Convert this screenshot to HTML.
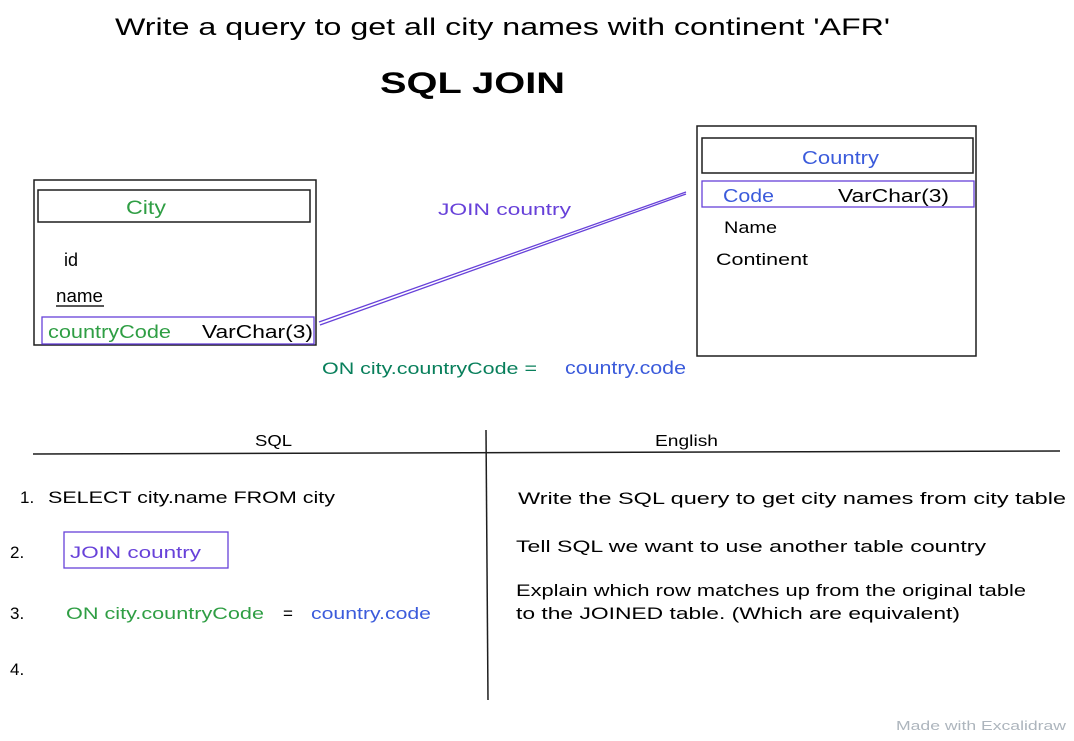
<!DOCTYPE html>
<html><head><meta charset="utf-8"><style>
body{margin:0;background:#fff;}
svg text{font-family:"Liberation Sans",sans-serif;}
</style></head><body>
<svg width="1074" height="736" viewBox="0 0 1074 736" xmlns="http://www.w3.org/2000/svg">
<rect width="1074" height="736" fill="#fff"/>
<text x="115" y="35" font-size="24" fill="#000" textLength="775" lengthAdjust="spacingAndGlyphs">Write a query to get all city names with continent 'AFR'</text>
<text x="380" y="93" font-size="30" font-weight="bold" fill="#000" textLength="185" lengthAdjust="spacingAndGlyphs">SQL JOIN</text>

<g fill="none" stroke="#1e1e1e" stroke-width="1.5">
<rect x="34" y="180" width="282" height="165"/>
<rect x="38" y="190" width="272" height="32"/>
<rect x="697" y="126" width="279" height="230"/>
<rect x="702" y="138" width="271" height="35"/>
<line x1="33" y1="454" x2="1060" y2="451"/>
<line x1="486" y1="430" x2="488" y2="700"/>
<line x1="56" y1="306" x2="104" y2="306"/>
</g>
<g fill="none" stroke="#6741d9" stroke-width="1.3">
<rect x="42" y="317" width="272" height="27"/>
<rect x="702" y="181" width="272" height="26"/>
<line x1="319" y1="322" x2="686" y2="192"/>
<line x1="320" y1="325" x2="686" y2="194"/>
<rect x="64" y="532" width="164" height="36"/>
</g>

<text x="126" y="214" font-size="19" fill="#2f9e44" textLength="40" lengthAdjust="spacingAndGlyphs">City</text>
<text x="64" y="266" font-size="18" fill="#000">id</text>
<text x="56" y="302" font-size="18" fill="#000" textLength="47" lengthAdjust="spacingAndGlyphs">name</text>
<text x="48" y="338" font-size="18" fill="#2f9e44" textLength="123" lengthAdjust="spacingAndGlyphs">countryCode</text>
<text x="202" y="338" font-size="18" fill="#000" textLength="111" lengthAdjust="spacingAndGlyphs">VarChar(3)</text>

<text x="802" y="164" font-size="18" fill="#3b5bdb" textLength="77" lengthAdjust="spacingAndGlyphs">Country</text>
<text x="723" y="202" font-size="18" fill="#3b5bdb" textLength="51" lengthAdjust="spacingAndGlyphs">Code</text>
<text x="838" y="202" font-size="18" fill="#000" textLength="111" lengthAdjust="spacingAndGlyphs">VarChar(3)</text>
<text x="724" y="233" font-size="17" fill="#000" textLength="53" lengthAdjust="spacingAndGlyphs">Name</text>
<text x="716" y="265" font-size="17" fill="#000" textLength="92" lengthAdjust="spacingAndGlyphs">Continent</text>

<text x="438" y="215" font-size="17" fill="#6741d9" textLength="133" lengthAdjust="spacingAndGlyphs">JOIN country</text>
<text x="322" y="374" font-size="17" fill="#087f5b" textLength="215" lengthAdjust="spacingAndGlyphs">ON city.countryCode =</text>
<text x="565" y="374" font-size="18" fill="#3b5bdb" textLength="121" lengthAdjust="spacingAndGlyphs">country.code</text>

<text x="255" y="446" font-size="16" fill="#000" textLength="37" lengthAdjust="spacingAndGlyphs">SQL</text>
<text x="655" y="446" font-size="16" fill="#000" textLength="63" lengthAdjust="spacingAndGlyphs">English</text>

<text x="20" y="503" font-size="17" fill="#000">1.</text>
<text x="48" y="503" font-size="17" fill="#000" textLength="287" lengthAdjust="spacingAndGlyphs">SELECT city.name FROM city</text>
<text x="10" y="558" font-size="17" fill="#000">2.</text>
<text x="70" y="558" font-size="17" fill="#6741d9" textLength="131" lengthAdjust="spacingAndGlyphs">JOIN country</text>
<text x="10" y="619" font-size="17" fill="#000">3.</text>
<text x="66" y="619" font-size="17" fill="#2f9e44" textLength="198" lengthAdjust="spacingAndGlyphs">ON city.countryCode</text>
<text x="283" y="619" font-size="17" fill="#000">=</text>
<text x="311" y="619" font-size="17" fill="#3b5bdb" textLength="120" lengthAdjust="spacingAndGlyphs">country.code</text>
<text x="10" y="675" font-size="17" fill="#000">4.</text>

<text x="518" y="504" font-size="17" fill="#000" textLength="548" lengthAdjust="spacingAndGlyphs">Write the SQL query to get city names from city table</text>
<text x="516" y="552" font-size="17" fill="#000" textLength="470" lengthAdjust="spacingAndGlyphs">Tell SQL we want to use another table country</text>
<text x="516" y="596" font-size="17" fill="#000" textLength="510" lengthAdjust="spacingAndGlyphs">Explain which row matches up from the original table</text>
<text x="516" y="619" font-size="17" fill="#000" textLength="444" lengthAdjust="spacingAndGlyphs">to the JOINED table. (Which are equivalent)</text>

<text x="896" y="730" font-size="13" fill="#adb5bd" textLength="170" lengthAdjust="spacingAndGlyphs">Made with Excalidraw</text>
</svg>
</body></html>
